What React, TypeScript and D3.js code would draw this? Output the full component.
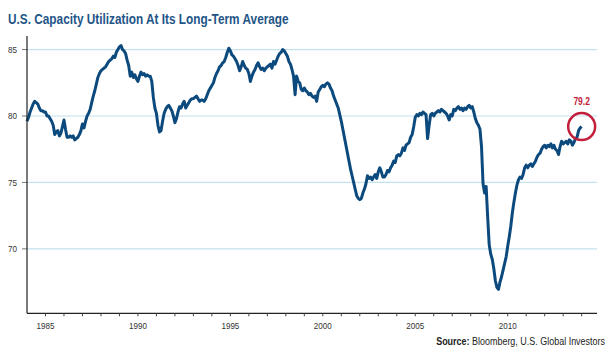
import React from "react";
import * as d3 from "d3";

const START_YEAR = 1984;
const cu1984to1988 = [
  79.6, 79.9, 80.3, 80.6, 80.9, 81.1, 81.0, 80.9, 80.6, 80.4, 80.4, 80.3,
  80.3, 80.0, 80.0, 79.8, 79.6, 79.3, 78.6, 78.8, 78.9, 78.5, 78.7, 79.2,
  79.7, 79.0, 78.4, 78.4, 78.5, 78.4, 78.5, 78.2, 78.3, 78.4, 78.6, 78.9,
  79.4, 79.1, 79.6, 80.0, 80.2, 80.5, 81.0, 81.5, 81.9, 82.4, 82.9, 83.2,
  83.4, 83.5, 83.6, 83.7, 83.9, 84.1, 84.2, 84.3, 84.5, 84.4, 84.8, 85.0,
];
const cu1989to1993 = [
  85.2, 85.3, 85.0, 84.9, 84.7, 84.2, 83.8, 83.0, 83.3, 82.9, 83.1, 82.8,
  82.6, 83.0, 83.3, 83.1, 83.2, 83.0, 83.1, 83.0, 83.0, 82.6, 81.4, 80.6,
  80.2, 79.3, 78.8, 78.9, 79.6, 80.2, 80.5, 80.7, 80.8, 80.6, 80.4, 80.0,
  79.5, 79.8, 80.3, 80.7, 80.6, 80.9, 81.1, 80.6, 80.8, 81.0, 81.2, 81.3,
  81.3, 81.4, 81.5, 81.3, 81.1, 81.2, 81.2, 81.1, 81.3, 81.6, 81.9, 82.1,
];
const cu1994to1998 = [
  82.3, 82.5, 82.9, 83.2, 83.4, 83.7, 83.8, 84.0, 84.1, 84.4, 84.8, 85.1,
  84.9, 84.6, 84.5, 84.3, 84.1, 83.8, 83.4, 83.7, 84.1, 83.8, 83.6, 83.5,
  83.2, 82.6, 83.0, 83.3, 83.5, 83.8, 84.0, 83.7, 83.5, 83.6, 83.4, 83.6,
  83.7, 83.8, 83.9, 83.6, 84.1, 83.9, 84.2, 84.5, 84.7, 84.8, 85.0, 84.9,
  84.7, 84.5, 84.1, 83.9, 83.5, 83.0, 81.6, 83.0, 82.6, 82.5, 82.0, 81.9,
];
const cu1999to2003 = [
  82.1, 81.9, 81.8, 81.6, 81.7, 81.5, 81.4, 81.5, 81.1, 81.8, 82.0, 82.2,
  82.3, 82.2, 82.4, 82.5, 82.4, 82.1, 81.9, 81.5, 81.2, 80.9, 80.6, 80.1,
  79.6, 79.0, 78.4, 77.8, 77.2, 76.6, 76.0, 75.5, 75.0, 74.5, 74.0, 73.8,
  73.7, 73.8, 74.2, 74.5, 74.9, 75.5, 75.3, 75.4, 75.2, 75.4, 75.6, 75.3,
  75.8, 76.1, 75.8, 75.4, 75.4, 75.6, 75.9, 75.8, 76.1, 76.3, 76.6, 76.5,
];
const cu2004to2008 = [
  77.0, 77.1, 77.0, 77.2, 77.6, 77.4, 77.8, 77.9, 78.0, 78.4, 78.6, 79.2,
  79.9, 80.1, 80.0, 80.2, 80.1, 80.3, 80.2, 80.1, 78.3, 79.3, 80.1, 80.2,
  80.0, 80.2, 80.3, 80.4, 80.3, 80.5, 80.4, 80.3, 80.2, 80.0, 79.7, 80.1,
  80.0, 80.5, 80.4, 80.6, 80.7, 80.5, 80.6, 80.4, 80.6, 80.5, 80.7, 80.8,
  80.6, 80.7, 80.3, 79.8, 79.5, 79.3, 79.0, 77.7, 74.9, 74.2, 74.7, 72.4,
];
const cu2009to2014 = [
  70.3, 69.6, 69.2, 68.5, 67.6, 67.1, 66.95, 67.5, 67.9, 68.4, 68.9, 69.4,
  70.2, 70.9, 71.7, 72.7, 73.5, 74.2, 74.8, 75.2, 75.4, 75.3, 75.6, 76.1,
  76.3, 76.1, 76.3, 76.4, 76.2, 76.4, 76.6, 76.9, 77.1, 77.2, 77.5, 77.7,
  77.8, 77.6, 77.8, 77.7, 77.9, 77.6, 77.8, 77.5, 77.4, 77.1, 77.7, 78.1,
  77.9, 78.0, 78.1, 77.9, 78.2, 78.1, 77.8, 78.0, 78.3, 78.4, 78.9, 79.1,
  79.2,
];
const utilization = [
  ...cu1984to1988,
  ...cu1989to1993,
  ...cu1994to1998,
  ...cu1999to2003,
  ...cu2004to2008,
  ...cu2009to2014,
];
const yTicks = [70, 75, 80, 85];
const xTickYears = d3.range(1985, 2015);
const xLabelYears = [1985, 1990, 1995, 2000, 2005, 2010];
const highlightLabel = "79.2";
const titleText = "U.S. Capacity Utilization At Its Long-Term Average";
const sourceBold = "Source:";
const sourceText = " Bloomberg, U.S. Global Investors";

const W = 612;
const H = 355;
const FONT = "'Liberation Sans', Arial, sans-serif";

export default function App() {
  const x = d3.scaleLinear().domain([1984.0, 2014.83]).range([27, 597]);
  const y = d3.scaleLinear().domain([65.15, 86.02]).range([313.3, 36]);
  const pts = utilization.map((v, i) => [START_YEAR + i / 12, v] as [number, number]);
  const line = d3
    .line<[number, number]>()
    .x((d) => x(d[0]))
    .y((d) => y(d[1]));
  const last = pts[pts.length - 1];
  const cx = x(last[0]);
  const cy = y(last[1]);
  const [x0, x1] = x.range();
  const [yBottom, yTop] = y.range();

  return (
    <svg
      width={W}
      height={H}
      style={{ position: "absolute", left: 0, top: 0, background: "#fff" }}
    >
      <g transform="translate(8,24) scale(0.815,1)">
        <text x={0} y={0} fontFamily={FONT} fontWeight="bold" fontSize={14.5} fill="#1f5587">
          {titleText}
        </text>
      </g>
      {yTicks.map((t) => (
        <g key={t}>
          <line x1={x0} x2={x1} y1={y(t)} y2={y(t)} stroke="#c3e2ef" strokeWidth={1.2} />
          <line x1={x0 - 5} x2={x0} y1={y(t)} y2={y(t)} stroke="#777" strokeWidth={1} />
          <g transform={`translate(17,${y(t)}) scale(0.85,1)`}>
            <text x={0} y={0} dy="0.35em" textAnchor="end" fontFamily={FONT} fontSize={9.5} fill="#333">
              {t}
            </text>
          </g>
        </g>
      ))}
      <path d={line(pts) || ""} fill="none" stroke="#0c4a7e" strokeWidth={3} strokeLinejoin="round" />
      <line x1={x0} x2={x0} y1={yTop} y2={yBottom} stroke="#222" strokeWidth={1.2} />
      <line x1={x0} x2={x1} y1={yBottom} y2={yBottom} stroke="#222" strokeWidth={1.2} />
      {xTickYears.map((yr) => (
        <line
          key={yr}
          x1={x(yr)}
          x2={x(yr)}
          y1={yBottom}
          y2={yBottom + 3}
          stroke="#444"
          strokeWidth={1}
        />
      ))}
      {xLabelYears.map((yr) => (
        <g key={yr} transform={`translate(${x(yr)},328.5) scale(0.85,1)`}>
          <text x={0} y={0} textAnchor="middle" fontFamily={FONT} fontSize={9.5} fill="#333">
            {yr}
          </text>
        </g>
      ))}
      <circle cx={cx} cy={cy} r={13.5} fill="none" stroke="#c21f3a" strokeWidth={2.5} />
      <g transform={`translate(${cx},105) scale(0.85,1)`}>
        <text x={0} y={0} textAnchor="middle" fontFamily={FONT} fontWeight="bold" fontSize={10} fill="#c21f3a">
          {highlightLabel}
        </text>
      </g>
      <g transform="translate(605,345) scale(0.855,1)">
        <text x={0} y={0} textAnchor="end" fontFamily={FONT} fontSize={10.5} fill="#222">
          <tspan fontWeight="bold">{sourceBold}</tspan>
          <tspan>{sourceText}</tspan>
        </text>
      </g>
    </svg>
  );
}
